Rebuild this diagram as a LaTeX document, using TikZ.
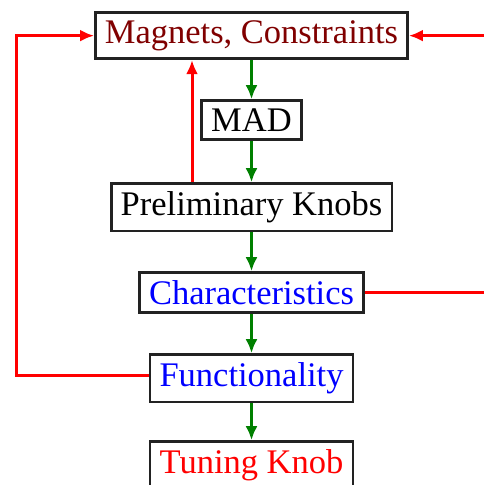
\documentclass[tikz,border=0pt]{standalone}
\usepackage{fontspec}
\setmainfont{Liberation Serif}
\usetikzlibrary{arrows.meta}
\definecolor{maroonred}{RGB}{128,0,0}
\definecolor{flowgreen}{RGB}{0,128,0}
\definecolor{boxedge}{RGB}{34,34,34}
\tikzset{
  box/.style={draw=boxedge, line width=2.6pt, inner xsep=9.5pt, inner ysep=8pt,
    anchor=north, font=\fontsize{34.5}{40}\selectfont},
  garrow/.style={draw=flowgreen, line width=3pt,
    -{Latex[length=14pt,width=12pt]}},
  rarrow/.style={draw=red, line width=3pt,
    -{Latex[length=14pt,width=12pt]}},
  rline/.style={draw=red, line width=3pt}
}
\begin{document}
\begin{tikzpicture}[x=1pt,y=1pt]
  \useasboundingbox (0,0) rectangle (484,-485);

  % chain of stages, top to bottom
  \node[box, text=maroonred] (mag)    at (251.5,-11.2)  {Magnets, Constraints};
  \node[box, text=black]     (mad)    at (251.5,-99.2)  {MAD};
  \node[box, text=black]     (prelim) at (251.5,-182.2) {Preliminary Knobs};
  \node[box, text=blue]      (char)   at (251.5,-271.2) {Characteristics};
  \node[box, text=blue]      (func)   at (251.5,-353.2) {Functionality};
  \node[box, text=red]       (tune)   at (251.5,-440.2) {Tuning Knob};

  % helper x positions for the feedback lines
  \coordinate (upx)    at (192,0);
  \coordinate (leftx)  at (16,0);
  \coordinate (rightx) at (484,0);

  % forward flow
  \draw[garrow] (mag)    -- (mad);
  \draw[garrow] (mad)    -- (prelim);
  \draw[garrow] (prelim) -- (char);
  \draw[garrow] (char)   -- (func);
  \draw[garrow] (func)   -- (tune);

  % feedback
  \draw[rarrow] (prelim.north -| upx) -- (mag.south -| upx);
  \draw[rarrow] ([yshift=3pt]func.west) -- ([yshift=3pt]func.west -| leftx) |- (mag.west);
  \draw[rarrow] (mag.east -| rightx) -- (mag.east);
  \draw[rline]  (char.east) -- (char.east -| rightx);
\end{tikzpicture}
\end{document}
